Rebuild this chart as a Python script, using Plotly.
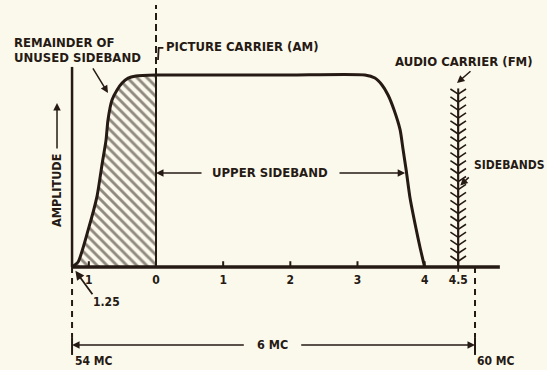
import numpy as np
import plotly.graph_objects as go

# Frequencies are offsets from the picture carrier, in MC
channel_edges = [-1.25, 4.75]          # 54 MC and 60 MC
channel_edge_labels = ["54 MC", "60 MC"]
picture_carrier = 0.0
audio_carrier = 4.5
audio_level = 0.93

# Vestigial (lower) sideband: rising edge of the response
lower_freq = [-1.25, -1.16, -1.01, -0.88, -0.80, -0.744, -0.715, -0.655, -0.58, -0.505, -0.415, -0.30, 0.0]
lower_amp = [0.0, 0.026, 0.193, 0.365, 0.542, 0.661, 0.766, 0.87, 0.922, 0.958, 0.984, 0.995, 1.0]

# Upper sideband: flat top, then roll-off down to 4 MC
upper_freq = [0.0, 1.0, 2.0, 3.11, 3.26, 3.365, 3.455, 3.545, 3.635, 3.68, 3.725, 3.78, 3.87, 3.93, 4.0]
upper_amp = [1.0, 1.0, 1.0, 1.0, 0.984, 0.948, 0.896, 0.818, 0.714, 0.609, 0.505, 0.365, 0.203, 0.104, 0.0]

# Frequency scale ticks
tick_vals = [-1, 0, 1, 2, 3, 4, 4.5]
tick_text = ["1", "0", "1", "2", "3", "4", "4.5"]

INK = "rgb(38,26,20)"
PAPER = "rgb(251,249,236)"
FONT = "DejaVu Sans Condensed, DejaVu Sans, sans-serif"

fig = go.Figure()

# hatched remainder of the unused sideband
fig.add_trace(go.Scatter(
    x=lower_freq + [picture_carrier, lower_freq[0]],
    y=lower_amp + [0.0, 0.0],
    mode="lines", line=dict(width=0), fill="toself",
    fillcolor="rgba(0,0,0,0)",
    fillpattern=dict(shape="\\", size=7, solidity=0.42, fgcolor=INK,
                     bgcolor="rgba(0,0,0,0)"),
    hoverinfo="skip"))

# amplitude response
fig.add_trace(go.Scatter(
    x=lower_freq + upper_freq[1:], y=lower_amp + upper_amp[1:],
    mode="lines", line=dict(color=INK, width=3, shape="spline", smoothing=0.6),
    hoverinfo="skip"))

# picture carrier: solid inside the band, dashed above it
fig.add_trace(go.Scatter(x=[picture_carrier, picture_carrier], y=[0, 1.0],
                         mode="lines", line=dict(color=INK, width=2)))
fig.add_trace(go.Scatter(x=[picture_carrier, picture_carrier], y=[1.0, 1.365],
                         mode="lines", line=dict(color=INK, width=2, dash="7px,4px")))
fig.add_trace(go.Scatter(x=[0.11, 0.04, 0.03], y=[1.141, 1.141, 1.078],
                         mode="lines", line=dict(color=INK, width=1.8)))

# audio carrier with its FM sidebands
fig.add_trace(go.Scatter(x=[audio_carrier, audio_carrier], y=[0, audio_level],
                         mode="lines", line=dict(color=INK, width=2)))
rows = np.linspace(0.03, audio_level - 0.03, 22)
fig.add_trace(go.Scatter(
    x=[audio_carrier] * len(rows), y=rows, mode="markers",
    marker=dict(symbol="y-down", size=13, line=dict(color=INK, width=1.6))))

# axes drawn as lines
fig.add_trace(go.Scatter(x=[channel_edges[0], 5.12], y=[0, 0], mode="lines",
                         line=dict(color=INK, width=3.5)))
fig.add_trace(go.Scatter(x=[channel_edges[0], channel_edges[0]], y=[0, 1.042],
                         mode="lines", line=dict(color=INK, width=2.5)))

# tick marks and labels
for t in tick_vals:
    fig.add_trace(go.Scatter(x=[t, t], y=[0, 0.03], mode="lines",
                             line=dict(color=INK, width=2)))
fig.add_trace(go.Scatter(
    x=tick_vals, y=[-0.073] * len(tick_vals), mode="text", text=tick_text,
    textfont=dict(family=FONT, size=12, color=INK, weight="bold")))

# channel edges: dashed drop lines, end bars and labels
for e in channel_edges:
    fig.add_trace(go.Scatter(x=[e, e], y=[0, -0.365], mode="lines",
                             line=dict(color=INK, width=2, dash="6px,5px")))
    fig.add_trace(go.Scatter(x=[e, e], y=[-0.365, -0.458], mode="lines",
                             line=dict(color=INK, width=2)))

fig.update_traces(showlegend=False, hoverinfo="skip")

annotations = []

def label(text, x, y, size=13, xanchor="center", angle=0):
    annotations.append(dict(
        text=text, x=x, y=y, xref="x", yref="y", showarrow=False,
        xanchor=xanchor, yanchor="middle", textangle=angle,
        font=dict(family=FONT, size=size, color=INK, weight="bold")))

def arrow(x, y, ax, ay, width=1.5):
    annotations.append(dict(
        text="", x=x, y=y, ax=ax, ay=ay, xref="x", yref="y",
        axref="x", ayref="y", showarrow=True, arrowhead=2, arrowsize=1,
        arrowwidth=width, arrowcolor=INK, standoff=0))

label("REMAINDER OF", -2.144, 1.167, xanchor="left")
label("UNUSED SIDEBAND", -2.144, 1.089, xanchor="left")
arrow(-0.715, 0.906, -0.953, 1.042)

label("PICTURE CARRIER (AM)", 0.12, 1.146, xanchor="left")

label("UPPER SIDEBAND", 1.69, 0.49)
arrow(picture_carrier, 0.49, 0.70, 0.49)
arrow(3.71, 0.49, 2.71, 0.49)

label("AUDIO CARRIER (FM)", 4.579, 1.068)
arrow(4.482, 0.958, 4.705, 1.026)

label("SIDEBANDS", 4.71, 0.531, size=12, xanchor="left")
arrow(4.53, 0.425, 4.68, 0.474)

label("AMPLITUDE", -1.474, 0.396, size=12.5, angle=-90)
arrow(-1.474, 0.854, -1.474, 0.609)

label("1.25", -0.73, -0.182, size=12)
arrow(-1.2, -0.02, -0.93, -0.15, width=1.8)

label("6 MC", 1.735, -0.406, size=12.5)
arrow(channel_edges[0], -0.406, 1.33, -0.406)
arrow(channel_edges[1], -0.406, 2.14, -0.406)

label(channel_edge_labels[0], channel_edges[0] + 0.02, -0.49, size=12, xanchor="left")
label(channel_edge_labels[1], channel_edges[1], -0.49, size=12, xanchor="left")

fig.update_layout(
    width=547, height=370,
    margin=dict(l=0, r=0, t=0, b=0),
    paper_bgcolor=PAPER, plot_bgcolor=PAPER,
    xaxis=dict(visible=False, range=[-2.3228, 5.8219], fixedrange=True),
    yaxis=dict(visible=False, range=[-0.5365, 1.3906], fixedrange=True),
    annotations=annotations,
    showlegend=False,
)

fig.write_html("out.html")
